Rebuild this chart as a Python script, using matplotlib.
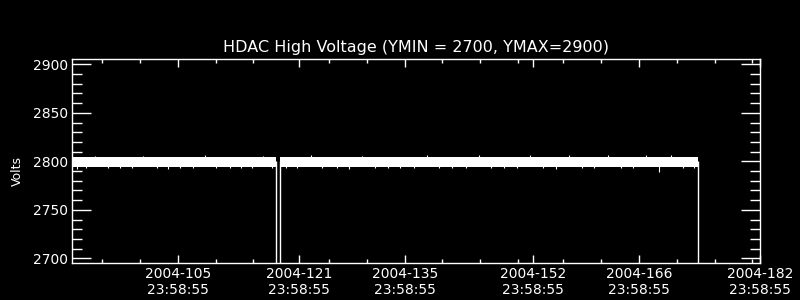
import numpy as np
import matplotlib
matplotlib.use("Agg")
import matplotlib.pyplot as plt

# HDAC high voltage, day-of-year 2004 (time of day 23:58:55)
tick_days = [105, 121, 135, 152, 166, 182]
tick_labels = ["2004-105\n23:58:55", "2004-121\n23:58:55", "2004-135\n23:58:55",
               "2004-152\n23:58:55", "2004-166\n23:58:55", "2004-182\n23:58:55"]
minor_days = [95, 100, 110, 115, 125, 130, 140, 145, 150, 156, 161, 171, 176, 181]

# envelope of the noisy voltage readings (volts), before and after the dropout
seg1_days = [91.0, 96.0, 101.0, 106.0, 111.0, 116.0, 118.0]
seg1_hi = [2804.7, 2804.7, 2804.7, 2804.7, 2804.7, 2804.7, 2804.7]
seg1_lo = [2794.4, 2794.4, 2794.4, 2794.4, 2794.4, 2794.4, 2794.4]
seg2_days = [118.5, 125.0, 132.0, 139.0, 146.0, 153.0, 160.0, 167.0, 173.8]
seg2_hi = [2804.7, 2804.7, 2804.7, 2804.7, 2804.7, 2804.8, 2804.8, 2804.8, 2804.8]
seg2_lo = [2794.4, 2794.4, 2794.4, 2794.4, 2794.4, 2794.4, 2794.4, 2794.4, 2794.4]

# small spikes poking out of the band
spike_days = [91.6, 92.9, 94.1, 95.8, 97.3, 98.9, 100.4, 102.2, 103.7, 105.3,
              107.0, 108.6, 110.1, 111.9, 113.4, 114.8, 116.3, 117.5,
              119.3, 120.8, 122.6, 124.1, 126.0, 127.7, 129.3, 131.1, 132.8, 134.4,
              136.2, 138.0, 139.6, 141.3, 143.1, 144.8, 146.4, 148.2, 149.9, 151.6,
              153.3, 155.0, 156.8, 158.5, 160.1, 161.9, 163.6, 165.2, 166.9, 168.6,
              170.2, 171.8, 173.3]
spike_volts = [2792.6, 2793.0, 2806.0, 2792.8, 2793.2, 2792.7, 2805.8, 2793.1, 2792.6, 2793.3,
               2792.8, 2806.1, 2793.0, 2792.7, 2793.2, 2792.9, 2805.9, 2793.1,
               2792.7, 2793.0, 2806.2, 2792.9, 2793.3, 2792.6, 2806.0, 2793.1, 2792.8, 2793.2,
               2792.7, 2806.3, 2793.0, 2792.9, 2793.2, 2806.1, 2792.7, 2793.0, 2792.8, 2806.4,
               2793.1, 2792.6, 2806.2, 2793.0, 2792.8, 2806.5, 2793.2, 2792.7, 2806.6, 2789.3,
               2806.4, 2792.8, 2793.0]

# dropouts to 0 V (data gap and end of record)
drop_days = [118.0, 118.5, 173.8]
drop_volts = [0.0, 0.0, 0.0]

plt.rcParams["font.family"] = ["DejaVu Sans"]
fig = plt.figure(figsize=(8, 3), dpi=100, facecolor="black")
ax = fig.add_axes([0.09, 0.1233, 0.86, 0.68], facecolor="black")

ax.fill_between(seg1_days, seg1_lo, seg1_hi, color="white", lw=0, step="mid")
ax.fill_between(seg2_days, seg2_lo, seg2_hi, color="white", lw=0, step="mid")
ax.vlines(spike_days, 2800, spike_volts, color="white", lw=0.8)
ax.vlines(drop_days, drop_volts, 2800, color="white", lw=1.0)

ax.set_xlim(91.0, 182.0)
ax.set_ylim(2695.3, 2905.4)

ax.set_xticks(tick_days)
ax.set_xticklabels(tick_labels)
ax.set_xticks(minor_days, minor=True)
ax.set_yticks([2700, 2750, 2800, 2850, 2900])
ax.set_yticks(np.arange(2700, 2901, 10), minor=True)

ax.tick_params(axis="x", which="major", direction="in", length=6, width=1,
               colors="white", labelsize=10, top=True, pad=3)
ax.tick_params(axis="x", which="minor", direction="in", length=3, width=1,
               colors="white", top=True)
ax.tick_params(axis="y", which="major", direction="in", length=14, width=1,
               colors="white", labelsize=10, right=True, pad=3)
ax.tick_params(axis="y", which="minor", direction="in", length=7, width=1,
               colors="white", right=True)
for s in ax.spines.values():
    s.set_color("white")
    s.set_linewidth(1)

ax.set_title("HDAC High Voltage (YMIN = 2700, YMAX=2900)", color="white",
             fontsize=11.5, pad=5)
ax.set_ylabel("Volts", color="white", fontsize=9)
ax.yaxis.set_label_coords(-0.07, 0.45)

fig.savefig("out.png", dpi=100, facecolor="black")
